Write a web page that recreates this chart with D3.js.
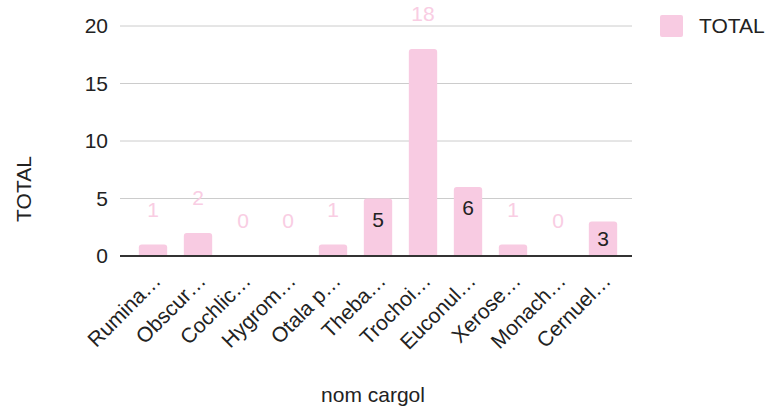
<!DOCTYPE html>
<html><head><meta charset="utf-8">
<script src="https://cdn.jsdelivr.net/npm/d3@7"></script>
<style>body{margin:0;background:#fff}svg{display:block;font-family:"Liberation Sans",Arial,sans-serif}</style>
</head><body><svg id="c" width="773" height="412"></svg>
<script>
const categories = ["Rumina…","Obscur…","Cochlic…","Hygrom…","Otala p…","Theba…","Trochoi…","Euconul…","Xerose…","Monach…","Cernuel…"];
const values = [1,2,0,0,1,5,18,6,1,0,3];
const yTicks = [0,5,10,15,20];
const seriesName = "TOTAL";
const xTitle = "nom cargol";
const yTitle = "TOTAL";

const svg = d3.select("#c");
const FS = 21;
const barColor = "#f8cbe2";
const x = d3.scaleBand().domain(categories).range([130.5,625.5]).paddingInner(0.37).paddingOuter(0.185);
const y = d3.scaleLinear().domain([0,20]).range([256,26]);

// gridlines
svg.append("g").selectAll("line").data(yTicks.filter(d=>d>0)).join("line")
  .attr("x1",120).attr("x2",632).attr("y1",d=>y(d)).attr("y2",d=>y(d))
  .attr("stroke","#cccccc").attr("stroke-width",1);

// y axis labels
const yAxis = d3.axisLeft(y).tickValues(yTicks).tickSize(0).tickPadding(0);
const ya = svg.append("g").attr("transform","translate(108,0)").call(yAxis);
ya.select(".domain").remove();
ya.selectAll("text").attr("font-size",FS).attr("fill","#222").attr("font-family","Liberation Sans, Arial, sans-serif");

// bars
const bw = x.bandwidth();
svg.append("g").selectAll("path").data(values).join("path")
  .attr("d",(d,i)=>{
    const x0 = x(categories[i]), y0 = y(d), h = y(0)-y(d), r = Math.min(3,h);
    if(h<=0) return "";
    return `M${x0},${y(0)}V${y0+r}Q${x0},${y0} ${x0+r},${y0}H${x0+bw-r}Q${x0+bw},${y0} ${x0+bw},${y0+r}V${y(0)}Z`;
  })
  .attr("fill",barColor);

// baseline
svg.append("line").attr("x1",120).attr("x2",632).attr("y1",y(0)).attr("y2",y(0))
  .attr("stroke","#333").attr("stroke-width",2);

// value labels
const isInside = d => (d===3||d===5||d===6);
svg.append("g").selectAll("text").data(values).join("text")
  .attr("x",(d,i)=>x(categories[i])+bw/2)
  .attr("y",(d,i)=>{
    const top=y(d), h=y(0)-y(d);
    if(isInside(d)) return Math.min(top+21, top+h/2);
    return top-35;
  })
  .attr("dy","0.35em")
  .attr("text-anchor","middle")
  .attr("font-size",FS)
  .attr("fill",d=>isInside(d)?"#222":"#f9cde3")
  .text(d=>d);

// x labels
const xAxis = d3.axisBottom(x).tickSize(0).tickPadding(0);
const xa = svg.append("g").attr("transform","translate(0,277)").call(xAxis);
xa.select(".domain").remove();
xa.selectAll("text").attr("font-size",FS).attr("fill","#222")
  .attr("font-family","Liberation Sans, Arial, sans-serif")
  .attr("text-anchor","end").attr("dy","0.35em").attr("y",0)
  .attr("transform","translate(4,0) rotate(-45)");

// axis titles
svg.append("text").attr("x",373).attr("y",402).attr("text-anchor","middle")
  .attr("font-size",FS).attr("fill","#222").text(xTitle);
svg.append("text").attr("transform","translate(31,189) rotate(-90)").attr("text-anchor","middle")
  .attr("font-size",FS).attr("fill","#222").text(yTitle);

// legend
svg.append("rect").attr("x",660).attr("y",15).attr("width",23).attr("height",22).attr("rx",2).attr("fill",barColor);
svg.append("text").attr("x",699).attr("y",26).attr("dy","0.35em").attr("font-size",FS).attr("fill","#222").text(seriesName);
</script></body></html>
